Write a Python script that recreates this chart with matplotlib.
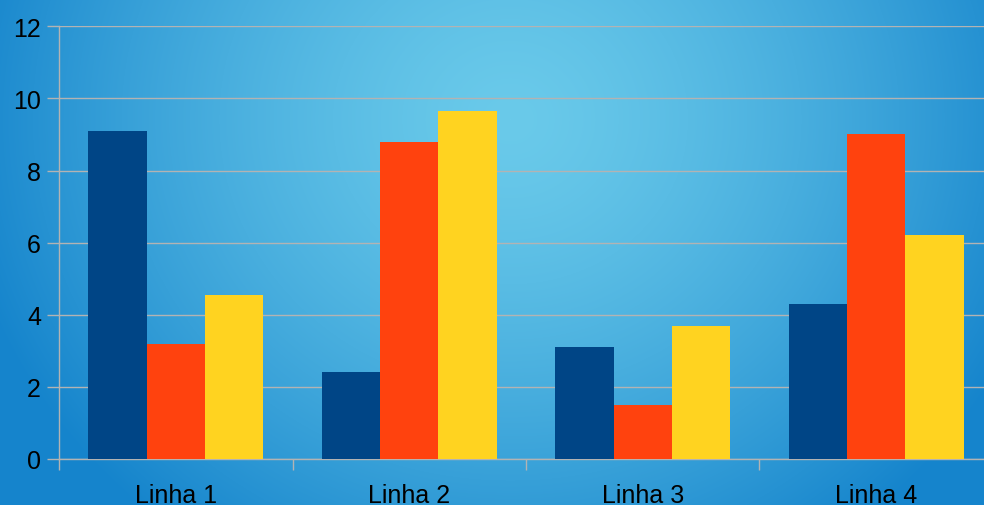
import numpy as np
import matplotlib
matplotlib.use("Agg")
import matplotlib.pyplot as plt

categories = ["Linha 1", "Linha 2", "Linha 3", "Linha 4"]
coluna1 = [9.1, 2.4, 3.1, 4.3]
coluna2 = [3.2, 8.8, 1.5, 9.02]
coluna3 = [4.54, 9.65, 3.7, 6.2]
series = [coluna1, coluna2, coluna3]
colors = ["#004586", "#ff420e", "#ffd320"]
yticks = [0, 2, 4, 6, 8, 10, 12]

plt.rcParams['font.family'] = ['Liberation Sans', 'DejaVu Sans']

W, H = 984, 506
fig = plt.figure(figsize=(W / 100, H / 100), dpi=100)

# background gradient
bg = fig.add_axes([0, 0, 1, 1], zorder=-10)
yy, xx = np.mgrid[0:H, 0:W]
cx, cy = 510, 120
r = np.sqrt(((xx - cx) / 560.0) ** 2 + ((yy - cy) / 520.0) ** 2)
t = np.clip(r, 0, 1) ** 1.4
c0 = np.array([0x6a, 0xca, 0xea]) / 255.0
c1 = np.array([0x15, 0x84, 0xcc]) / 255.0
img = c0[None, None, :] * (1 - t[..., None]) + c1[None, None, :] * t[..., None]
bg.imshow(img, aspect='auto', extent=[0, W, H, 0])
bg.set_axis_off()

left = 59 / W
right = 993 / W
bottom = (H - 460) / H
top = (H - 27.3) / H
ax = fig.add_axes([left, bottom, right - left, top - bottom])
ax.set_facecolor('none')

n = len(series)
bw = 0.75 / n
x = np.arange(len(categories))
for i, (vals, col) in enumerate(zip(series, colors)):
    ax.bar(x - 0.375 + bw * (i + 0.5), vals, width=bw, color=col, zorder=3)

ax.set_xlim(-0.5, len(categories) - 0.5)
ax.set_ylim(0, 12)
ax.set_yticks(yticks)
ax.set_yticklabels([str(v) for v in yticks])
ax.yaxis.grid(True, color="#b3b3b3", linewidth=1.0, zorder=0)
ax.set_axisbelow(True)

ax.set_xticks(x)
ax.set_xticklabels(categories)
ax.set_xticks(np.arange(len(categories) + 1) - 0.5, minor=True)
ax.tick_params(axis='x', which='major', length=0, pad=17, labelsize=18, labelcolor='black')
ax.tick_params(axis='x', which='minor', length=8, width=1, color="#b3b3b3", direction='out')
ax.tick_params(axis='y', length=8.5, width=1, color="#b3b3b3", pad=4.5, labelsize=18, labelcolor='black')

for s in ['top', 'right']:
    ax.spines[s].set_visible(False)
for s in ['left', 'bottom']:
    ax.spines[s].set_color("#b3b3b3")
    ax.spines[s].set_linewidth(1.0)

fig.savefig("out.png", dpi=100)
